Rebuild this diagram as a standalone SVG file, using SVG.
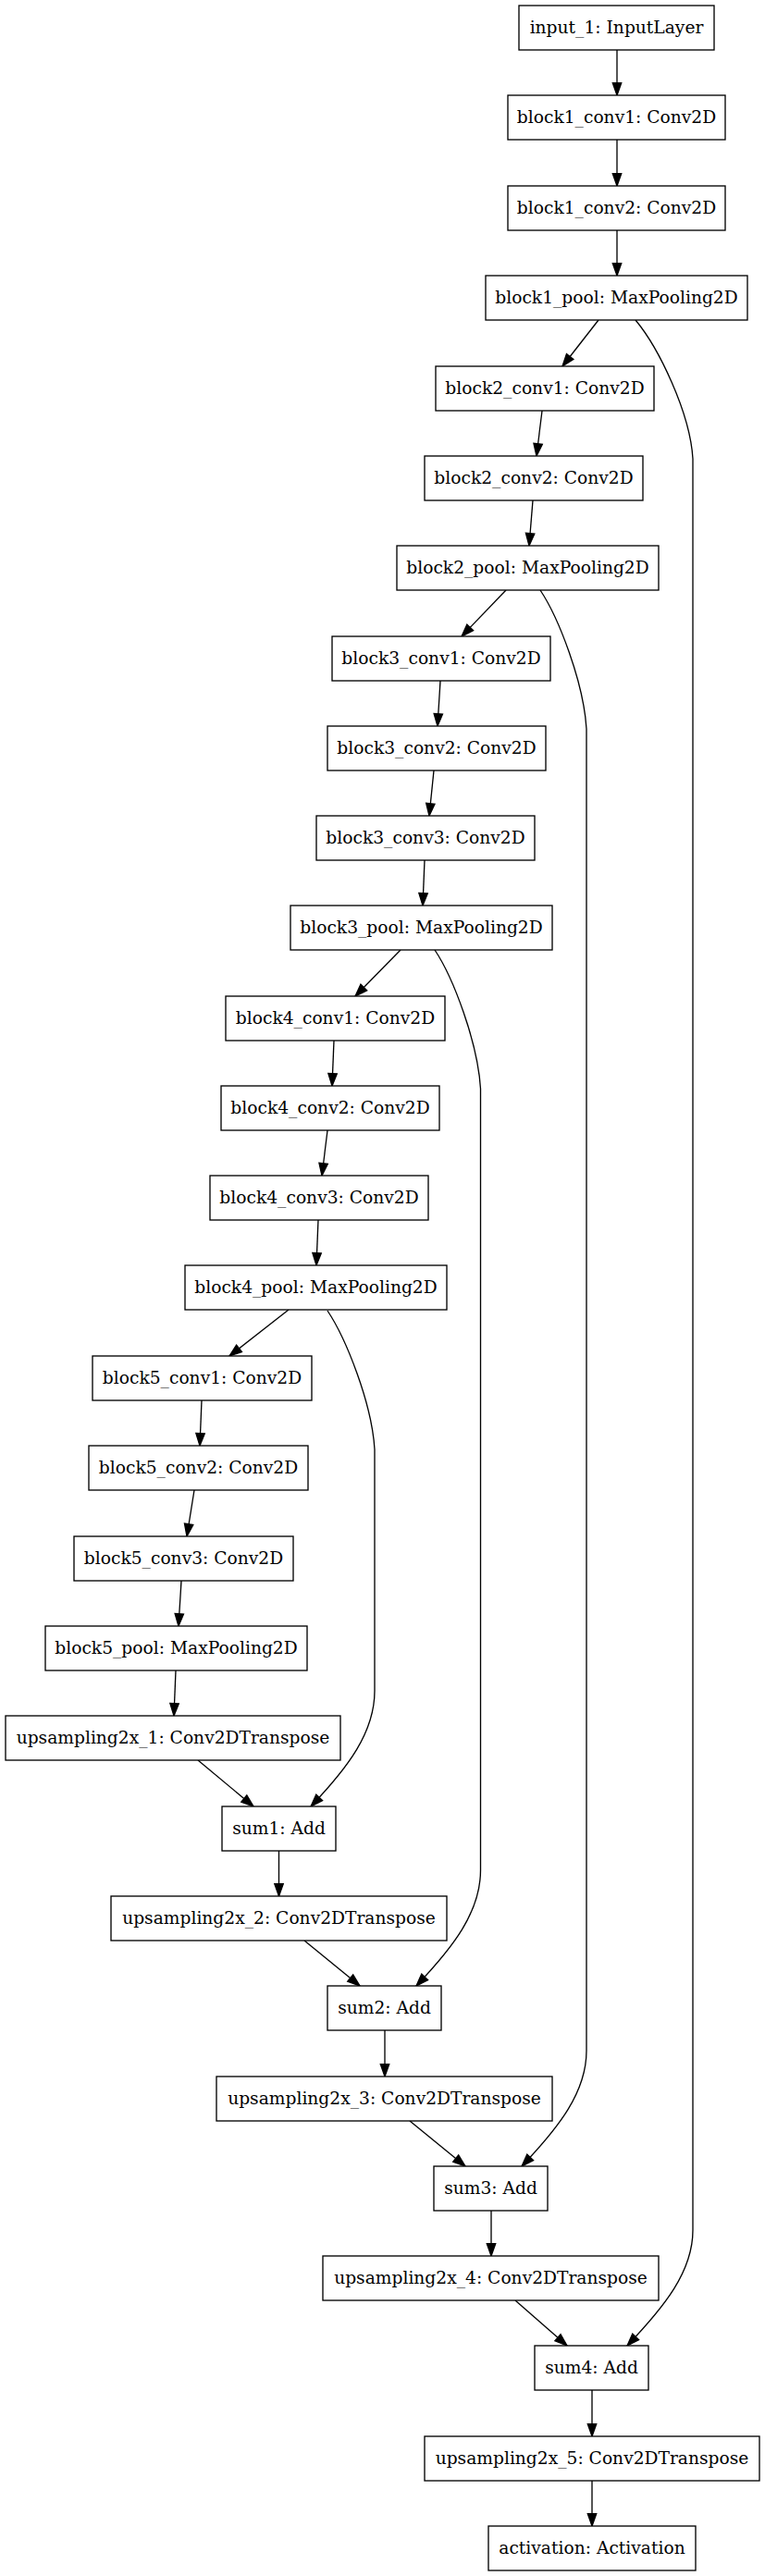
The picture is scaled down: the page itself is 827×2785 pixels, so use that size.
<svg xmlns="http://www.w3.org/2000/svg" width="827" height="2785" viewBox="0 0 827 2785">
<style>
.n rect{fill:#fff;stroke:#000;stroke-width:1.33}
.n text{font-family:"DejaVu Serif","Liberation Serif",serif;font-size:18.67px;fill:#000;text-anchor:middle}
.e path{fill:none;stroke:#000;stroke-width:1.33;marker-end:url(#arr)}
</style>
<defs>
<marker id="arr" markerUnits="userSpaceOnUse" markerWidth="16" markerHeight="12" viewBox="-1 -6 16 12" refX="13.3" refY="0" orient="auto" overflow="visible">
<path d="M0,-4.7 L13.3,0 L0,4.7 z" fill="#000" stroke="#000" stroke-width="1.33"/>
</marker>
</defs>
<rect width="827" height="2785" fill="#fff"/>
<g id="edges" class="e">
<path d="M667,54 L667,103"/>
<path d="M667,151 L667,201"/>
<path d="M667,249 L667,298"/>
<path d="M647,346 L608,396"/>
<path d="M586,444 L580,493"/>
<path d="M576,541 L572,590"/>
<path d="M547,638 L499,688"/>
<path d="M476,736 L473,785"/>
<path d="M469,833 L464,882"/>
<path d="M459,930 L457,979"/>
<path d="M433,1027 L384,1077"/>
<path d="M361,1125 L359,1174"/>
<path d="M354,1222 L348,1271"/>
<path d="M344,1319 L342,1368"/>
<path d="M312,1416 L248,1466"/>
<path d="M218,1514 L216,1563"/>
<path d="M210,1611 L202,1661"/>
<path d="M196,1709 L193,1758"/>
<path d="M190,1806 L188,1855"/>
<path d="M214,1903 L274,1953"/>
<path d="M301.5,2001 L301.5,2050"/>
<path d="M329,2098 L389,2147"/>
<path d="M416,2195 L416,2245"/>
<path d="M443,2293 L503,2342"/>
<path d="M531,2390 L531,2439"/>
<path d="M557,2487 L613,2536"/>
<path d="M640,2584 L640,2634"/>
<path d="M640,2682 L640,2731"/>
<path d="M687,346 C712,376 746,446 749,496 L749,2411 C749,2456 718,2494 678,2536"/>
<path d="M584,638 C604,668 631,738 634,788 L634,2217 C634,2262 604,2300 564,2342"/>
<path d="M470,1027 C490,1057 516.5,1127 519.5,1177 L519.5,2022 C519.5,2067 490,2105 450,2147"/>
<path d="M354,1417 C374,1447 402,1517 405,1567 L405,1828 C405,1873 376,1911 336,1953"/>
</g>
<g id="input_1" class="n"><rect x="561" y="6" width="211" height="48"/><text x="666.5" y="35.6">input_1: InputLayer</text></g>
<g id="block1_conv1" class="n"><rect x="549" y="103" width="235" height="48"/><text x="666.5" y="132.6">block1_conv1: Conv2D</text></g>
<g id="block1_conv2" class="n"><rect x="549" y="201" width="235" height="48"/><text x="666.5" y="230.6">block1_conv2: Conv2D</text></g>
<g id="block1_pool" class="n"><rect x="525" y="298" width="283" height="48"/><text x="666.5" y="327.6">block1_pool: MaxPooling2D</text></g>
<g id="block2_conv1" class="n"><rect x="471" y="396" width="236" height="48"/><text x="589" y="425.6">block2_conv1: Conv2D</text></g>
<g id="block2_conv2" class="n"><rect x="459" y="493" width="236" height="48"/><text x="577" y="522.6">block2_conv2: Conv2D</text></g>
<g id="block2_pool" class="n"><rect x="429" y="590" width="283" height="48"/><text x="570.5" y="619.6">block2_pool: MaxPooling2D</text></g>
<g id="block3_conv1" class="n"><rect x="359" y="688" width="236" height="48"/><text x="477" y="717.6">block3_conv1: Conv2D</text></g>
<g id="block3_conv2" class="n"><rect x="354" y="785" width="236" height="48"/><text x="472" y="814.6">block3_conv2: Conv2D</text></g>
<g id="block3_conv3" class="n"><rect x="342" y="882" width="236" height="48"/><text x="460" y="911.6">block3_conv3: Conv2D</text></g>
<g id="block3_pool" class="n"><rect x="314" y="979" width="283" height="48"/><text x="455.5" y="1008.6">block3_pool: MaxPooling2D</text></g>
<g id="block4_conv1" class="n"><rect x="244" y="1077" width="237" height="48"/><text x="362.5" y="1106.6">block4_conv1: Conv2D</text></g>
<g id="block4_conv2" class="n"><rect x="239" y="1174" width="236" height="48"/><text x="357" y="1203.6">block4_conv2: Conv2D</text></g>
<g id="block4_conv3" class="n"><rect x="227" y="1271" width="236" height="48"/><text x="345" y="1300.6">block4_conv3: Conv2D</text></g>
<g id="block4_pool" class="n"><rect x="200" y="1368" width="283" height="48"/><text x="341.5" y="1397.6">block4_pool: MaxPooling2D</text></g>
<g id="block5_conv1" class="n"><rect x="100" y="1466" width="237" height="48"/><text x="218.5" y="1495.6">block5_conv1: Conv2D</text></g>
<g id="block5_conv2" class="n"><rect x="96" y="1563" width="237" height="48"/><text x="214.5" y="1592.6">block5_conv2: Conv2D</text></g>
<g id="block5_conv3" class="n"><rect x="80" y="1661" width="237" height="48"/><text x="198.5" y="1690.6">block5_conv3: Conv2D</text></g>
<g id="block5_pool" class="n"><rect x="49" y="1758" width="283" height="48"/><text x="190.5" y="1787.6">block5_pool: MaxPooling2D</text></g>
<g id="upsampling2x_1" class="n"><rect x="6" y="1855" width="362" height="48"/><text x="187" y="1884.6">upsampling2x_1: Conv2DTranspose</text></g>
<g id="sum1" class="n"><rect x="240" y="1953" width="123" height="48"/><text x="301.5" y="1982.6">sum1: Add</text></g>
<g id="upsampling2x_2" class="n"><rect x="120" y="2050" width="363" height="48"/><text x="301.5" y="2079.6">upsampling2x_2: Conv2DTranspose</text></g>
<g id="sum2" class="n"><rect x="354" y="2147" width="123" height="48"/><text x="415.5" y="2176.6">sum2: Add</text></g>
<g id="upsampling2x_3" class="n"><rect x="234" y="2245" width="363" height="48"/><text x="415.5" y="2274.6">upsampling2x_3: Conv2DTranspose</text></g>
<g id="sum3" class="n"><rect x="469" y="2342" width="123" height="48"/><text x="530.5" y="2371.6">sum3: Add</text></g>
<g id="upsampling2x_4" class="n"><rect x="349" y="2439" width="363" height="48"/><text x="530.5" y="2468.6">upsampling2x_4: Conv2DTranspose</text></g>
<g id="sum4" class="n"><rect x="578" y="2536" width="123" height="48"/><text x="639.5" y="2565.6">sum4: Add</text></g>
<g id="upsampling2x_5" class="n"><rect x="459" y="2634" width="362" height="48"/><text x="640" y="2663.6">upsampling2x_5: Conv2DTranspose</text></g>
<g id="activation" class="n"><rect x="528" y="2731" width="224" height="48"/><text x="640" y="2760.6">activation: Activation</text></g>
</svg>
